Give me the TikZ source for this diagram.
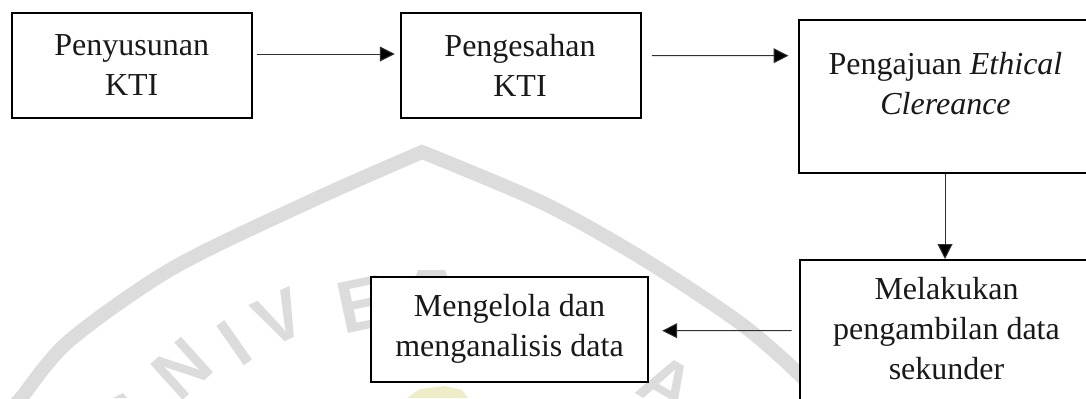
\documentclass[tikz,border=0pt]{standalone}
\usepackage{fontspec}
\setmainfont{Liberation Serif}
\newfontfamily\wmfont{Liberation Sans}
\usetikzlibrary{arrows.meta}
\definecolor{wm}{HTML}{DCDCDC}
\definecolor{conn}{HTML}{303030}
\definecolor{wmyellow}{HTML}{EDEDC8}
\tikzset{
  x=1bp,y=-1bp,
  boxnode/.style={draw=black,line width=2bp,fill=white,rectangle,inner sep=0pt,minimum width=#1},
  lbl/.style={font=\fontsize{32bp}{40bp}\selectfont,align=center,inner sep=0pt,text=black!90},
  flow/.style={draw=conn,line width=1bp,-{Triangle[length=15bp,width=15bp,fill=black]}},
  wmband/.style={draw=wm,line width=14bp,line join=miter},
  wmletter/.style={font=\wmfont\bfseries\fontsize{#1}{#1}\selectfont,text=wm,inner sep=0pt},
}
\begin{document}
\begin{tikzpicture}
\useasboundingbox (0,0) rectangle (1086,398);
\clip (0,0) rectangle (1086,398);
% watermark
\draw[wmband] plot[smooth,tension=0.5] coordinates {(5,415) (21,398) (69,341) (173,268) (311,201) (422,152)}
  -- plot[smooth,tension=0.5] coordinates {(422,152) (543,203) (640,257) (740,323) (800,375) (830,410)};
\node[wmletter=70bp,rotate=42] (wmN) at (182,369) {N};
\node[wmletter=70bp,rotate=35] (wmI) at (235,343) {I};
\node[wmletter=70bp,rotate=25] (wmV) at (279,318) {V};
\node[wmletter=74bp,rotate=12] (wmE) at (362,304) {E};
\node[wmletter=70bp,rotate=-30] (wmA) at (667,384) {A};
\fill[wm] (113,398) -- (123,393) -- (127,398) -- cycle;
\fill[wm] (415,278) -- (418,270) -- (445,270) -- (448,278) -- cycle;
\fill[wmyellow] (407,398) -- (420,389) -- (445,386) -- (462,390) -- (468,398) -- cycle;
% boxes
\node[boxnode=239.5bp,minimum height=105.5bp] (box1) at (132.2,65.5) {};
\node[boxnode=239.5bp,minimum height=105.5bp] (box2) at (521.2,65.5) {};
\node[boxnode=293bp,minimum height=152.5bp] (box3) at (945,96.5) {};
\node[boxnode=290bp,minimum height=150bp] (box4) at (945,335) {};
\node[boxnode=277bp,minimum height=105.5bp] (box5) at (509,329.25) {};
% labels
\node[lbl] (t1) at (131.7,65) {Penyusunan\\KTI};
\node[lbl] (t2) at (520,65) {Pengesahan\\KTI};
\node[lbl] (t3) at (945.5,84) {Pengajuan \textit{Ethical}\\\textit{Clereance}};
\node[lbl] (t4) at (946.5,329) {Melakukan\\pengambilan data\\sekunder};
\node[lbl] (t5) at (509.5,329) {Mengelola dan\\menganalisis data};
% connectors
\draw[flow] ([xshift=4bp,yshift=11.5bp]box1.east) -- ([xshift=-5.7bp,yshift=11.5bp]box2.west);
\draw[flow] ([xshift=10bp,yshift=9.8bp]box2.east) -- ([xshift=-9bp,yshift=40.8bp]box3.west);
\draw[flow] (box3.south) -- (box4.north);
\draw[flow] ([xshift=-7.3bp,yshift=4.3bp]box4.west) -- ([xshift=13.7bp,yshift=-1.45bp]box5.east);
\end{tikzpicture}
\end{document}
